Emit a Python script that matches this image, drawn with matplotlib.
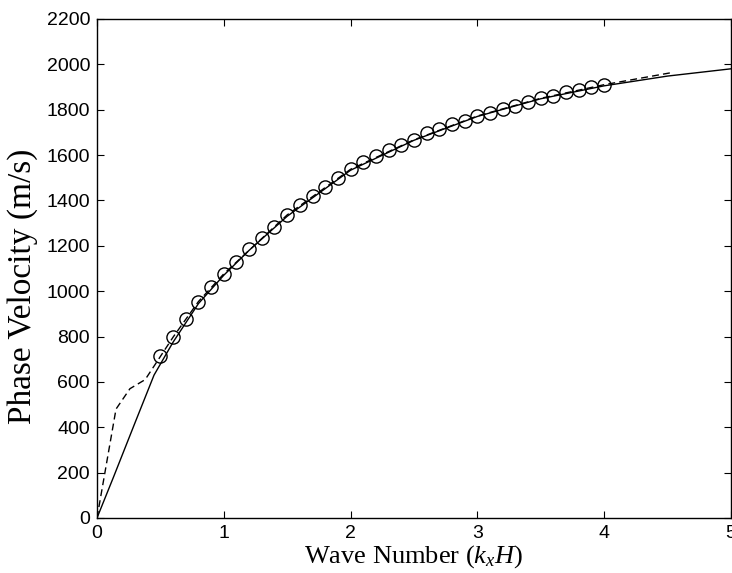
import matplotlib.pyplot as plt

plt.rcParams['mathtext.fontset'] = 'custom'
plt.rcParams['mathtext.it'] = 'Liberation Serif:italic'
plt.rcParams['mathtext.rm'] = 'Liberation Serif'

# Curva continua (solución analítica)
k_solid = [0, 0.13, 0.3, 0.45, 0.6, 0.8, 1.0, 1.2, 1.5, 2.0, 2.5, 3.0, 3.5, 4.0, 4.5, 5.0]
v_solid = [0, 180, 420, 630, 775, 945, 1070, 1180, 1330, 1533, 1665, 1770, 1848, 1905, 1948, 1980]

# Curva discontinua (numérica)
k_dash = [0, 0.15, 0.26, 0.38, 0.5, 0.6, 0.8, 1.0, 1.5, 2.0, 2.5, 3.0, 3.5, 4.0, 4.3, 4.55]
v_dash = [0, 480, 570, 610, 712, 797, 954, 1076, 1336, 1537, 1667, 1772, 1850, 1910, 1940, 1965]

# Círculos (mediciones)
k_circ = [0.5, 0.6, 0.7, 0.8, 0.9, 1.0, 1.1, 1.2, 1.3, 1.4, 1.5, 1.6, 1.7, 1.8, 1.9,
          2.0, 2.1, 2.2, 2.3, 2.4, 2.5, 2.6, 2.7, 2.8, 2.9, 3.0, 3.1, 3.2, 3.3, 3.4,
          3.5, 3.6, 3.7, 3.8, 3.9, 4.0]
v_circ = [714, 797, 876, 954, 1017, 1076, 1130, 1185, 1235, 1284, 1336, 1380, 1420, 1461, 1498,
          1537, 1571, 1596, 1622, 1643, 1667, 1696, 1714, 1736, 1750, 1771, 1787, 1802, 1814, 1834,
          1850, 1861, 1877, 1887, 1898, 1909]

fig = plt.figure(figsize=(7.32, 5.73), dpi=100)
ax = fig.add_axes([0.1325, 0.096, 0.866, 0.871])

ax.plot(k_solid, v_solid, color='black', linewidth=1.0)
ax.plot(k_dash, v_dash, color='black', linewidth=1.0, linestyle=(0, (5, 3)))
ax.plot(k_circ, v_circ, linestyle='none', marker='o', markersize=9.5,
        markerfacecolor='none', markeredgecolor='black', markeredgewidth=1.0)

ax.set_xlim(0, 5)
ax.set_ylim(0, 2200)
ax.set_xticks([0, 1, 2, 3, 4, 5])
ax.set_yticks(range(0, 2201, 200))
ax.tick_params(direction='in', top=True, right=True, length=5, width=0.8,
               labelsize=14, pad=5)
for lbl in ax.get_xticklabels() + ax.get_yticklabels():
    lbl.set_fontfamily('Liberation Sans')

ax.set_xlabel('Wave Number ($k_xH$)', fontfamily='Liberation Serif', fontsize=19, labelpad=1)
ax.set_ylabel('Phase Velocity (m/s)', fontfamily='Liberation Serif', fontsize=24)
ax.yaxis.set_label_coords(-0.093, 0.465)

for s in ax.spines.values():
    s.set_linewidth(1.0)

fig.savefig('out.png', dpi=100)
